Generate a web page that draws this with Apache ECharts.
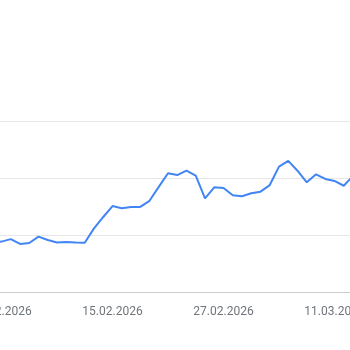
<!DOCTYPE html>
<html>
<head>
<meta charset="utf-8">
<style>
  html, body { margin: 0; padding: 0; background: #ffffff; }
  #chart { width: 350px; height: 350px; }
</style>
<script src="https://cdn.jsdelivr.net/npm/echarts@6/dist/echarts.min.js"></script>
</head>
<body>
<div id="chart"></div>
<script>
// Daily dates, 02.02.2026 – 14.03.2026
const dates = [
  '02.02.2026','03.02.2026','04.02.2026','05.02.2026','06.02.2026','07.02.2026','08.02.2026',
  '09.02.2026','10.02.2026','11.02.2026','12.02.2026','13.02.2026','14.02.2026','15.02.2026',
  '16.02.2026','17.02.2026','18.02.2026','19.02.2026','20.02.2026','21.02.2026','22.02.2026',
  '23.02.2026','24.02.2026','25.02.2026','26.02.2026','27.02.2026','28.02.2026','01.03.2026',
  '02.03.2026','03.03.2026','04.03.2026','05.03.2026','06.03.2026','07.03.2026','08.03.2026',
  '09.03.2026','10.03.2026','11.03.2026','12.03.2026','13.03.2026','14.03.2026'
];

// Interest values per day
const values = [
  22.0, 22.1, 23.2, 21.1, 21.5, 24.3, 22.8,
  21.7, 21.9, 21.7, 21.6, 27.9, 32.9, 37.7,
  36.7, 37.3, 37.3, 40.0, 46.1, 52.1, 51.3,
  53.2, 51.0, 41.1, 45.9, 45.6, 42.4, 42.0,
  43.3, 44.0, 46.9, 55.0, 57.5, 53.2, 48.1,
  51.6, 49.6, 48.7, 46.6, 50.9, 52.5
];

// Value axis range and gridline step
const yMin = 0;
const yMax = 75;
const yStep = 25;

// Date labels appear every 12 days, starting from 03.02.2026
const labelEvery = 12;
const labelOffset = 1;

const chart = echarts.init(document.getElementById('chart'), null, { renderer: 'canvas' });

chart.setOption({
  animation: false,
  backgroundColor: '#ffffff',
  grid: {
    left: -7.75,
    right: -12.25,
    top: 121,
    bottom: 58,
    containLabel: false,
    outerBoundsMode: 'none'
  },
  xAxis: {
    type: 'category',
    data: dates,
    boundaryGap: false,
    axisLine: { show: true, lineStyle: { color: '#cccccc', width: 1 } },
    axisTick: { show: false },
    axisLabel: {
      interval: (idx) => idx >= labelOffset && (idx - labelOffset) % labelEvery === 0,
      color: '#70757a',
      fontFamily: 'Roboto',
      fontSize: 12,
      margin: 14,
      hideOverlap: false
    },
    splitLine: { show: false }
  },
  yAxis: {
    type: 'value',
    min: yMin,
    max: yMax,
    interval: yStep,
    axisLine: { show: false },
    axisTick: { show: false },
    axisLabel: { show: false },
    splitLine: { show: true, lineStyle: { color: '#e6e6e6', width: 1 } }
  },
  series: [{
    type: 'line',
    data: values,
    showSymbol: false,
    smooth: false,
    lineStyle: { color: '#4285f4', width: 2 },
    itemStyle: { color: '#4285f4' }
  }]
});
</script>
</body>
</html>
